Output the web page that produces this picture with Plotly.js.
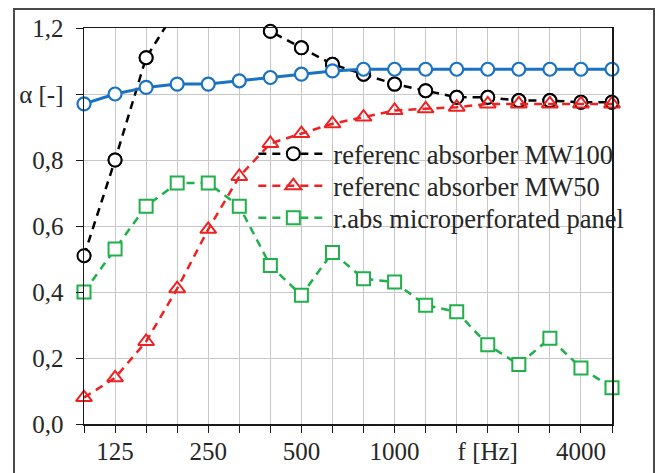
<!DOCTYPE html>
<html>
<head>
<meta charset="utf-8">
<script src="https://cdn.plot.ly/plotly-3.0.1.min.js"></script>
<style>
  html, body { margin: 0; padding: 0; background: #fff; }
  #frame { position: absolute; left: 13px; top: 8px; width: 638px; height: 480px;
           border: 2px solid #4a4a4a; border-bottom: none; }
  #chart { position: absolute; left: 0; top: 0; width: 655px; height: 473px; }
</style>
</head>
<body>
<div id="frame"></div>
<div id="chart"></div>
<script>
// 1/3-octave band centre frequencies (Hz)
const freqs = ['100','125','160','200','250','315','400','500','630','800','1000','1250','1600','2000','2500','3150','4000','5000'];
const tickLabels = ['', '125', '', '', '250', '', '', '500', '', '', '1000', '', '', 'f [Hz]', '', '', '4000', ''];

const yTickVals = [0, 0.2, 0.4, 0.6, 0.8, 1.0, 1.2];
const yTickText = ['0,0', '0,2', '0,4', '0,6', '0,8', 'α [-]', '1,2'];

// Series values (absorption coefficient)
const mw100 = [0.51, 0.80, 1.11, 1.26, 1.30, 1.27, 1.19, 1.14, 1.09, 1.06, 1.03, 1.01, 0.99, 0.99, 0.98, 0.98, 0.975, 0.975];
const mw50  = [0.08, 0.14, 0.25, 0.41, 0.59, 0.75, 0.85, 0.88, 0.91, 0.93, 0.95, 0.955, 0.96, 0.97, 0.97, 0.97, 0.97, 0.97];
const panel = [0.40, 0.53, 0.66, 0.73, 0.73, 0.66, 0.48, 0.39, 0.52, 0.44, 0.43, 0.36, 0.34, 0.24, 0.18, 0.26, 0.17, 0.11];
const blue  = [0.97, 1.00, 1.02, 1.03, 1.03, 1.04, 1.05, 1.06, 1.07, 1.075, 1.075, 1.075, 1.075, 1.075, 1.075, 1.075, 1.075, 1.075];

const Y_MAX = 1.2;
const dash = '8px,6px';
const FONT = 'Liberation Serif, Times New Roman, DejaVu Serif, serif';

const traces = [
  { x: freqs, y: mw100, type: 'scatter', mode: 'lines+markers', name: 'referenc absorber MW100',
    cliponaxis: true, legend: 'legend',
    line: { color: '#000000', width: 2.5, dash: dash },
    marker: { symbol: 'circle', size: 13, color: '#ffffff', line: { color: '#000000', width: 2 } } },
  { x: freqs, y: mw100.map(v => v > Y_MAX ? null : v), type: 'scatter', mode: 'markers',
    showlegend: false, cliponaxis: false, hoverinfo: 'skip',
    marker: { symbol: 'circle', size: 13, color: '#ffffff', line: { color: '#000000', width: 2 } } },
  { x: freqs, y: mw50, type: 'scatter', mode: 'lines+markers', name: 'referenc absorber MW50',
    cliponaxis: false, legend: 'legend2',
    line: { color: '#ee2222', width: 2.5, dash: dash },
    marker: { symbol: 'triangle-up', size: 14, color: 'rgba(255,255,255,0)', line: { color: '#ee2222', width: 2 } } },
  { x: freqs, y: panel, type: 'scatter', mode: 'lines+markers', name: 'r.abs microperforated panel',
    cliponaxis: false, legend: 'legend3',
    line: { color: '#1fb04a', width: 2.5, dash: dash },
    marker: { symbol: 'square', size: 13, color: '#ffffff', line: { color: '#1fb04a', width: 2 } } },
  { x: freqs, y: blue, type: 'scatter', mode: 'lines+markers', name: 'blue',
    showlegend: false, cliponaxis: false,
    line: { color: '#1a73c2', width: 3 },
    marker: { symbol: 'circle', size: 13, color: '#ffffff', line: { color: '#1a73c2', width: 2.2 } } }
];

function legendAt(y) {
  return {
    x: 0.3207, xanchor: 'left', y: y, yanchor: 'middle',
    bgcolor: 'rgba(0,0,0,0)', borderwidth: 0,
    font: { family: FONT, size: 26.5, color: '#262626' },
    itemwidth: 70
  };
}

const layout = {
  width: 655, height: 473,
  margin: { l: 84, r: 43, t: 28, b: 49, pad: 0 },
  paper_bgcolor: 'rgba(0,0,0,0)',
  plot_bgcolor: '#ffffff',
  font: { family: FONT, size: 25, color: '#262626' },
  showlegend: true,
  legend: legendAt(0.682),
  legend2: legendAt(0.601),
  legend3: legendAt(0.520),
  xaxis: {
    type: 'category',
    range: [0, freqs.length - 1],
    tickmode: 'array', tickvals: freqs, ticktext: tickLabels,
    showgrid: true, gridcolor: '#c8c8c8', gridwidth: 1,
    showline: true, linecolor: '#1a1a1a', linewidth: 1.5, mirror: true,
    ticks: 'outside', ticklen: 7, tickcolor: '#1a1a1a', tickwidth: 1,
    ticklabelstandoff: -3,
    zeroline: false, fixedrange: true
  },
  yaxis: {
    range: [0, Y_MAX],
    tickmode: 'array', tickvals: yTickVals, ticktext: yTickText,
    showgrid: true, gridcolor: '#c8c8c8', gridwidth: 1,
    showline: true, linecolor: '#1a1a1a', linewidth: 1.5, mirror: true,
    ticks: 'outside', ticklen: 7, tickcolor: '#1a1a1a', tickwidth: 1,
    ticklabelstandoff: 7,
    zeroline: false, fixedrange: true
  }
};

Plotly.newPlot('chart', traces, layout, { displayModeBar: false, staticPlot: true });
</script>
</body>
</html>
